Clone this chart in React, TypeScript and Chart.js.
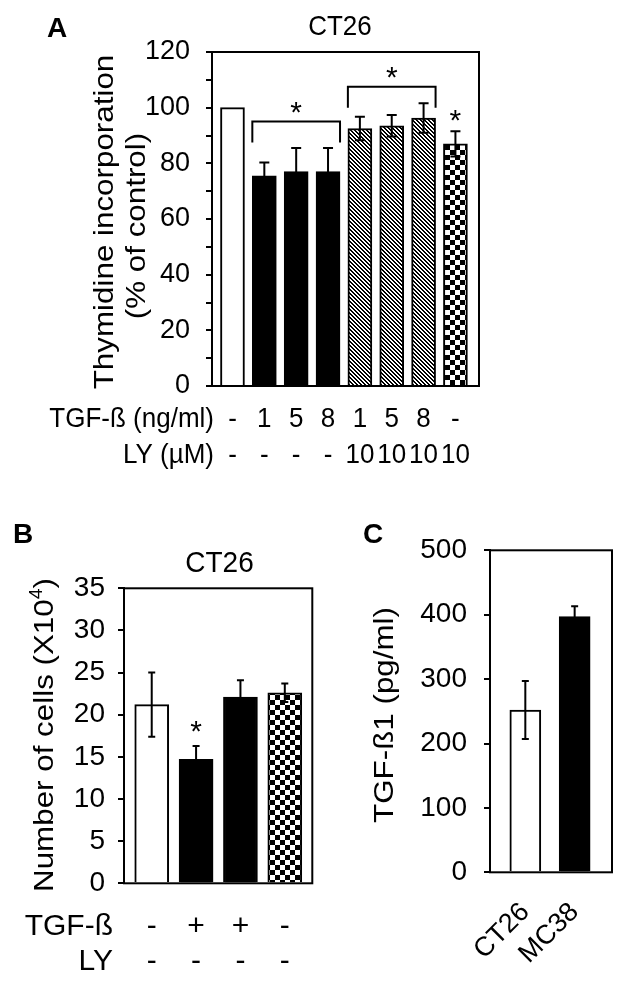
import React, { useEffect, useRef } from "react";
import { Chart, registerables } from "chart.js";
Chart.register(...registerables);

const FONT = '"Liberation Sans", Arial, Helvetica, sans-serif';

// ---------- Panel A data ----------
const aTgfLabels = ["-", "1", "5", "8", "1", "5", "8", "-"];
const aLyLabels = ["-", "-", "-", "-", "10", "10", "10", "10"];
const aValues = [100, 75.5, 77, 77, 92.5, 93.5, 96.3, 87];
const aErrors = [0, 4.8, 8.5, 8.5, 4.2, 3.9, 5.3, 4.5];
const aFills = ["white", "black", "black", "black", "hatch", "hatch", "hatch", "checker"];
const aYTicks = [0, 10, 20, 30, 40, 50, 60, 70, 80, 90, 100, 110, 120];
const aYLabels = [0, 20, 40, 60, 80, 100, 120];
const aBrackets = [
  { from: 1, to: 3, level: 95, foot: 87.5 },
  { from: 4, to: 6, level: 107.5, foot: 100 },
];
const aStars = [
  { at: 2, level: 101 },
  { at: 5, level: 113.5 },
  { at: 7, level: 98.4 },
];

// ---------- Panel B data ----------
const bTgfLabels = ["-", "+", "+", "-"];
const bLyLabels = ["-", "-", "-", "-"];
const bValues = [21.2, 14.7, 22.1, 22.6];
const bErrors = [3.8, 1.6, 2.0, 1.1];
const bFills = ["white", "black", "black", "checker"];
const bYTicks = [0, 5, 10, 15, 20, 25, 30, 35];
const bStars = [{ at: 1, level: 19 }];

// ---------- Panel C data ----------
const cCategories = ["CT26", "MC38"];
const cValues = [252, 397];
const cErrors = [45, 16];
const cFills = ["white", "black"];
const cYTicks = [0, 100, 200, 300, 400, 500];

type TxtOpt = {
  size: number;
  bold?: boolean;
  align?: CanvasTextAlign;
  baseline?: CanvasTextBaseline;
  rot?: number;
  sx?: number;
  sy?: number;
};

function txt(ctx: CanvasRenderingContext2D, s: string, x: number, y: number, o: TxtOpt) {
  ctx.save();
  ctx.translate(x, y);
  if (o.rot) ctx.rotate(o.rot);
  ctx.scale(o.sx ?? 1, o.sy ?? 1);
  ctx.font = `${o.bold ? "bold " : ""}${o.size}px ${FONT}`;
  ctx.textAlign = o.align ?? "left";
  ctx.textBaseline = o.baseline ?? "alphabetic";
  ctx.fillStyle = "#000";
  ctx.fillText(s, 0, 0);
  ctx.restore();
}

function makeHatch(ctx: CanvasRenderingContext2D) {
  const c = document.createElement("canvas");
  c.width = 4;
  c.height = 4;
  const g = c.getContext("2d")!;
  g.fillStyle = "#fff";
  g.fillRect(0, 0, 4, 4);
  g.fillStyle = "#000";
  for (let y = 0; y < 4; y++)
    for (let x = 0; x < 4; x++) if ((x - y + 8) % 4 < 2) g.fillRect(x, y, 1, 1);
  return ctx.createPattern(c, "repeat")!;
}

function makeChecker(ctx: CanvasRenderingContext2D) {
  const s = 5;
  const c = document.createElement("canvas");
  c.width = s * 2;
  c.height = s * 2;
  const g = c.getContext("2d")!;
  g.fillStyle = "#fff";
  g.fillRect(0, 0, s * 2, s * 2);
  g.fillStyle = "#000";
  g.fillRect(0, 0, s, s);
  g.fillRect(s, s, s, s);
  return ctx.createPattern(c, "repeat")!;
}

type Spec = {
  key: string;
  area: { left: number; top: number; right: number; bottom: number };
  xMin: number;
  xMax: number;
  barThickness: number;
  values: number[];
  errors: number[];
  fills: string[];
  yTicks: number[];
  yLabels: number[];
  tickSize: number;
  tickPad: number;
  capWidth: number;
  decorate: (ctx: CanvasRenderingContext2D, chart: any) => void;
};

function buildChart(canvas: HTMLCanvasElement, spec: Spec): Chart {
  const ctx = canvas.getContext("2d")!;
  const pats: Record<string, any> = {
    white: "#ffffff",
    black: "#000000",
    hatch: makeHatch(ctx),
    checker: makeChecker(ctx),
  };
  const W = canvas.width;
  const H = canvas.height;
  const a = spec.area;
  const plugin = {
    id: "decor" + spec.key,
    afterDatasetsDraw(chart: any) {
      const c = chart.ctx as CanvasRenderingContext2D;
      const xs = chart.scales.x;
      const ys = chart.scales.y;
      c.save();
      c.strokeStyle = "#000";
      c.lineWidth = 2;
      spec.values.forEach((v, i) => {
        const e = spec.errors[i];
        if (!e) return;
        const x = xs.getPixelForValue(i);
        const yt = ys.getPixelForValue(v + e);
        const yb = ys.getPixelForValue(v - e);
        const hw = spec.capWidth / 2;
        c.beginPath();
        c.moveTo(x, yb);
        c.lineTo(x, yt);
        c.moveTo(x - hw, yt);
        c.lineTo(x + hw, yt);
        c.moveTo(x - hw, yb);
        c.lineTo(x + hw, yb);
        c.stroke();
      });
      c.restore();
    },
    afterDraw(chart: any) {
      const c = chart.ctx as CanvasRenderingContext2D;
      const ca = chart.chartArea;
      c.save();
      c.strokeStyle = "#000";
      c.lineWidth = 2;
      c.strokeRect(ca.left, ca.top, ca.right - ca.left, ca.bottom - ca.top);
      c.restore();
      spec.decorate(c, chart);
    },
  };
  const yMin = Math.min(...spec.yTicks);
  const yMax = Math.max(...spec.yTicks);
  return new Chart(canvas, {
    type: "bar",
    data: {
      datasets: [
        {
          data: spec.values.map((v, i) => ({ x: i, y: v })) as any,
          backgroundColor: spec.fills.map((f) => pats[f]),
          borderColor: "#000",
          borderWidth: 2,
          barThickness: spec.barThickness,
        },
      ],
    },
    options: {
      animation: false,
      responsive: false,
      maintainAspectRatio: false,
      devicePixelRatio: 1,
      layout: { padding: { left: 0, top: a.top, right: W - a.right, bottom: H - a.bottom } },
      plugins: { legend: { display: false }, tooltip: { enabled: false }, title: { display: false } },
      scales: {
        x: { type: "linear", display: false, offset: false, grid: { offset: false }, min: spec.xMin, max: spec.xMax },
        y: {
          type: "linear",
          position: "left",
          min: yMin,
          max: yMax,
          afterFit: (s: any) => {
            s.width = a.left;
          },
          afterBuildTicks: (s: any) => {
            s.ticks = spec.yTicks.map((v) => ({ value: v }));
          },
          ticks: {
            autoSkip: false,
            padding: spec.tickPad,
            color: "#000",
            font: { family: FONT, size: spec.tickSize },
            callback: (v: any) => (spec.yLabels.includes(Number(v)) ? String(v) : ""),
          },
          grid: { drawOnChartArea: false, drawTicks: true, tickLength: 6, color: "#000", lineWidth: 2 },
          border: { display: true, color: "#000", width: 2 },
        },
      },
    } as any,
    plugins: [plugin],
  });
}

function drawStars(ctx: CanvasRenderingContext2D, chart: any, stars: { at: number; level: number }[], size: number) {
  const xs = chart.scales.x;
  const ys = chart.scales.y;
  stars.forEach((s) => {
    txt(ctx, "*", xs.getPixelForValue(s.at), ys.getPixelForValue(s.level) + 0.58 * size, {
      size,
      align: "center",
    });
  });
}

const specA: Spec = {
  key: "A",
  area: { left: 212, top: 52, right: 479, bottom: 386 },
  xMin: -0.643,
  xMax: 7.74,
  barThickness: 24,
  values: aValues,
  errors: aErrors,
  fills: aFills,
  yTicks: aYTicks,
  yLabels: aYLabels,
  tickSize: 27,
  tickPad: 16,
  capWidth: 10,
  decorate: (ctx, chart) => {
    const xs = chart.scales.x;
    const ys = chart.scales.y;
    const ca = chart.chartArea;
    txt(ctx, "A", 47, 37, { size: 28, bold: true });
    txt(ctx, "CT26", 340, 35, { size: 26, align: "center", sy: 1.08 });
    txt(ctx, "Thymidine incorporation", 113, 222, { size: 28.5, align: "center", rot: -Math.PI / 2, sx: 1.1 });
    txt(ctx, "(% of control)", 145, 226, { size: 28.5, align: "center", rot: -Math.PI / 2, sx: 1.1 });
    ctx.save();
    ctx.strokeStyle = "#000";
    ctx.lineWidth = 2;
    aBrackets.forEach((b) => {
      const x1 = xs.getPixelForValue(b.from) - 12;
      const x2 = xs.getPixelForValue(b.to) + 12;
      const yl = ys.getPixelForValue(b.level);
      const yf = ys.getPixelForValue(b.foot);
      ctx.beginPath();
      ctx.moveTo(x1, yf);
      ctx.lineTo(x1, yl);
      ctx.lineTo(x2, yl);
      ctx.lineTo(x2, yf);
      ctx.stroke();
    });
    ctx.restore();
    drawStars(ctx, chart, aStars, 30);
    const r1 = ca.bottom + 41;
    const r2 = ca.bottom + 77;
    txt(ctx, "TGF-ß (ng/ml)", 214, r1, { size: 26, align: "right", sy: 1.08 });
    txt(ctx, "LY (µM)", 214, r2, { size: 26, align: "right", sy: 1.08 });
    aTgfLabels.forEach((l, i) => txt(ctx, l, xs.getPixelForValue(i), r1, { size: 26, align: "center", sy: 1.08 }));
    aLyLabels.forEach((l, i) => txt(ctx, l, xs.getPixelForValue(i), r2, { size: 26, align: "center", sy: 1.08 }));
  },
};

const specB: Spec = {
  key: "B",
  area: { left: 124, top: 108.3, right: 312.3, bottom: 403.3 },
  xMin: -0.625,
  xMax: 3.62,
  barThickness: 34,
  values: bValues,
  errors: bErrors,
  fills: bFills,
  yTicks: bYTicks,
  yLabels: bYTicks,
  tickSize: 28,
  tickPad: 13,
  capWidth: 7,
  decorate: (ctx, chart) => {
    const xs = chart.scales.x;
    const ca = chart.chartArea;
    txt(ctx, "B", 13, 63, { size: 28, bold: true });
    txt(ctx, "CT26", 219.5, 92, { size: 28, align: "center", sy: 1.05 });
    const size = 28.5;
    ctx.save();
    ctx.translate(53, 255);
    ctx.rotate(-Math.PI / 2);
    ctx.scale(1.1, 1);
    ctx.fillStyle = "#000";
    ctx.textBaseline = "alphabetic";
    ctx.textAlign = "left";
    const main = "Number of cells (X10";
    const sup = "4";
    const tail = ")";
    ctx.font = `${size}px ${FONT}`;
    const wMain = ctx.measureText(main).width;
    const wTail = ctx.measureText(tail).width;
    ctx.font = `${size * 0.62}px ${FONT}`;
    const wSup = ctx.measureText(sup).width;
    let x0 = -(wMain + wSup + wTail) / 2;
    ctx.font = `${size}px ${FONT}`;
    ctx.fillText(main, x0, 0);
    x0 += wMain;
    ctx.font = `${size * 0.62}px ${FONT}`;
    ctx.fillText(sup, x0, -size * 0.38);
    x0 += wSup;
    ctx.font = `${size}px ${FONT}`;
    ctx.fillText(tail, x0, 0);
    ctx.restore();
    drawStars(ctx, chart, bStars, 30);
    const r1 = ca.bottom + 52;
    const r2 = ca.bottom + 87;
    txt(ctx, "TGF-ß", 113, r1, { size: 30, align: "right" });
    txt(ctx, "LY", 113, r2, { size: 30, align: "right" });
    bTgfLabels.forEach((l, i) => txt(ctx, l, xs.getPixelForValue(i), r1, { size: 30, align: "center" }));
    bLyLabels.forEach((l, i) => txt(ctx, l, xs.getPixelForValue(i), r2, { size: 30, align: "center" }));
  },
};

const specC: Spec = {
  key: "C",
  area: { left: 160, top: 70.3, right: 282, bottom: 392.3 },
  xMin: -0.716,
  xMax: 1.757,
  barThickness: 31,
  values: cValues,
  errors: cErrors,
  fills: cFills,
  yTicks: cYTicks,
  yLabels: cYTicks,
  tickSize: 28,
  tickPad: 17,
  capWidth: 7,
  decorate: (ctx, chart) => {
    const xs = chart.scales.x;
    const ca = chart.chartArea;
    txt(ctx, "C", 33, 63, { size: 28, bold: true });
    txt(ctx, "TGF-ß1 (pg/ml)", 63, 235, { size: 28.5, align: "center", rot: -Math.PI / 2, sx: 1.1 });
    cCategories.forEach((l, i) =>
      txt(ctx, l, xs.getPixelForValue(i), ca.bottom + 35.5, {
        size: 27,
        align: "right",
        baseline: "middle",
        rot: -Math.PI / 4,
      })
    );
  },
};

export default function App() {
  const aRef = useRef<HTMLCanvasElement>(null);
  const bRef = useRef<HTMLCanvasElement>(null);
  const cRef = useRef<HTMLCanvasElement>(null);
  useEffect(() => {
    const charts = [
      buildChart(aRef.current!, specA),
      buildChart(bRef.current!, specB),
      buildChart(cRef.current!, specC),
    ];
    return () => charts.forEach((c) => c.destroy());
  }, []);
  return (
    <div style={{ position: "absolute", left: 0, top: 0, width: 627, height: 986, background: "#fff" }}>
      <canvas ref={aRef} width={627} height={480} style={{ position: "absolute", left: 0, top: 0 }} />
      <canvas ref={bRef} width={330} height={506} style={{ position: "absolute", left: 0, top: 480 }} />
      <canvas ref={cRef} width={297} height={506} style={{ position: "absolute", left: 330, top: 480 }} />
    </div>
  );
}
